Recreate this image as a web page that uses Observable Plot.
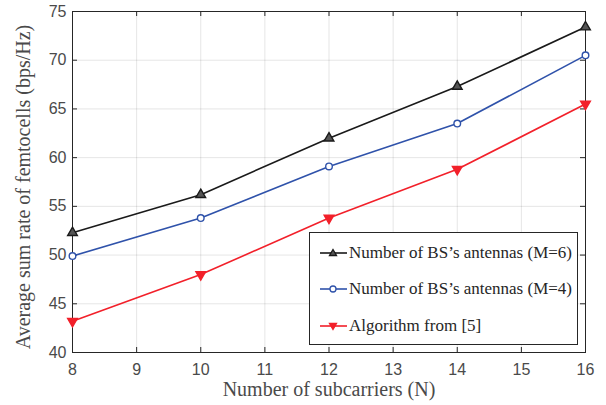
<!DOCTYPE html>
<html>
<head>
<meta charset="utf-8">
<script src="https://cdn.jsdelivr.net/npm/d3@7"></script>
<script src="https://cdn.jsdelivr.net/npm/@observablehq/plot@0.6"></script>
<style>
  html, body { margin: 0; padding: 0; background: #fff; }
  #wrap { position: relative; width: 606px; height: 405px; }
  #legend {
    position: absolute; left: 309px; top: 232px; width: 269px; height: 113px;
    border: 1px solid #262626; background: #fff; box-sizing: border-box;
    font-family: "Liberation Serif", serif; font-size: 17px; color: #262626;
  }
  .row { position: absolute; left: 0; height: 20px; display: flex; align-items: center; white-space: nowrap; }
  .row svg { display: block; margin-left: 10px; margin-right: 2px; }
</style>
</head>
<body>
<div id="wrap"></div>
<script>
const subcarriers = [8, 10, 12, 14, 16];
const rateM6 = [52.3, 56.2, 62.0, 67.3, 73.4];
const rateM4 = [49.9, 53.8, 59.1, 63.5, 70.5];
const rateAlg5 = [43.2, 48.0, 53.8, 58.8, 65.5];
const seriesNames = ["Number of BS’s antennas (M=6)", "Number of BS’s antennas (M=4)", "Algorithm from [5]"];
const seriesColors = ["#1a1a1a", "#2f52aa", "#f2202a"];
const xTicks = [8, 9, 10, 11, 12, 13, 14, 15, 16];
const yTicks = [40, 45, 50, 55, 60, 65, 70, 75];
const xTitle = "Number of subcarriers (N)";
const yTitle = "Average sum rate of femtocells (bps/Hz)";

const allSeries = [rateM6, rateM4, rateAlg5];
const data = allSeries.flatMap((vals, s) => vals.map((v, i) => ({x: subcarriers[i], y: v, s: seriesNames[s]})));

const W = 606, H = 405, mL = 72, mR = 21, mT = 11, mB = 53;
const pw = W - mL - mR, ph = H - mT - mB;

const chart = Plot.plot({
  width: W, height: H,
  marginLeft: mL, marginRight: mR, marginTop: mT, marginBottom: mB,
  style: {fontFamily: "'Liberation Sans', Arial, sans-serif", fontSize: "16px", color: "#4a4a4a", background: "#fff"},
  x: {domain: [8, 16], ticks: xTicks},
  y: {domain: [40, 75], ticks: yTicks},
  marks: [
    Plot.gridX(xTicks, {stroke: "#000", strokeOpacity: 0.1}),
    Plot.gridY(yTicks, {stroke: "#000", strokeOpacity: 0.1}),
    Plot.axisX(xTicks, {tickSize: 0, tickPadding: 11, label: null, fill: "#4a4a4a"}),
    Plot.axisY(yTicks, {tickSize: 0, tickPadding: 6, label: null, fill: "#4a4a4a"}),
    Plot.tickX(xTicks, {x: d => d, insetTop: ph - 5, stroke: "#262626"}),
    Plot.tickX(xTicks, {x: d => d, insetBottom: ph - 5, stroke: "#262626"}),
    Plot.tickY(yTicks, {y: d => d, insetRight: pw - 5, stroke: "#262626"}),
    Plot.tickY(yTicks, {y: d => d, insetLeft: pw - 5, stroke: "#262626"}),
    Plot.frame({stroke: "#262626"}),
    ...seriesNames.map((name, s) =>
      Plot.line(data.filter(d => d.s === name), {x: "x", y: "y", stroke: seriesColors[s], strokeWidth: 1.6})
    ),
    Plot.dot(data.filter(d => d.s === seriesNames[0]), {x: "x", y: "y", symbol: "triangle", r: 3.6, stroke: seriesColors[0], strokeWidth: 1.4, fill: "#555"}),
    Plot.dot(data.filter(d => d.s === seriesNames[1]), {x: "x", y: "y", symbol: "circle", r: 3.3, stroke: seriesColors[1], strokeWidth: 1.4, fill: "#fff"}),
    Plot.dot(data.filter(d => d.s === seriesNames[2]), {x: "x", y: "y", symbol: "triangle", rotate: 180, r: 3.6, stroke: seriesColors[2], strokeWidth: 1.4, fill: seriesColors[2]}),
    Plot.text([xTitle], {text: d => d, frameAnchor: "bottom", dy: 37, lineAnchor: "middle", fontFamily: "'Liberation Serif', serif", fontSize: 20, fill: "#4a4a4a"}),
    Plot.text([yTitle], {text: d => d, frameAnchor: "left", dx: -49, dy: 5, rotate: -90, lineAnchor: "middle", textAnchor: "middle", fontFamily: "'Liberation Serif', serif", fontSize: 20, fill: "#4a4a4a"})
  ]
});
document.getElementById("wrap").appendChild(chart);

// Legend
const legend = document.createElement("div");
legend.id = "legend";
const rowTops = [10, 46, 83];
const symbols = ["up", "circle", "down"];
seriesNames.forEach((name, s) => {
  const row = document.createElement("div");
  row.className = "row";
  row.style.top = rowTops[s] + "px";
  const c = seriesColors[s];
  let marker;
  if (symbols[s] === "up") marker = `<path d="M13,6.5 L16.5,12.5 L9.5,12.5 Z" fill="#555" stroke="${c}" stroke-width="1.3"/>`;
  else if (symbols[s] === "circle") marker = `<circle cx="13" cy="10" r="3" fill="#fff" stroke="${c}" stroke-width="1.3"/>`;
  else marker = `<path d="M13,13.5 L16.5,7.5 L9.5,7.5 Z" fill="${c}" stroke="${c}" stroke-width="1.3"/>`;
  row.innerHTML = `<svg width="27" height="20"><line x1="0" y1="10" x2="27" y2="10" stroke="${c}" stroke-width="1.6"/>${marker}</svg><span>${name}</span>`;
  legend.appendChild(row);
});
document.getElementById("wrap").appendChild(legend);
</script>
</body>
</html>
